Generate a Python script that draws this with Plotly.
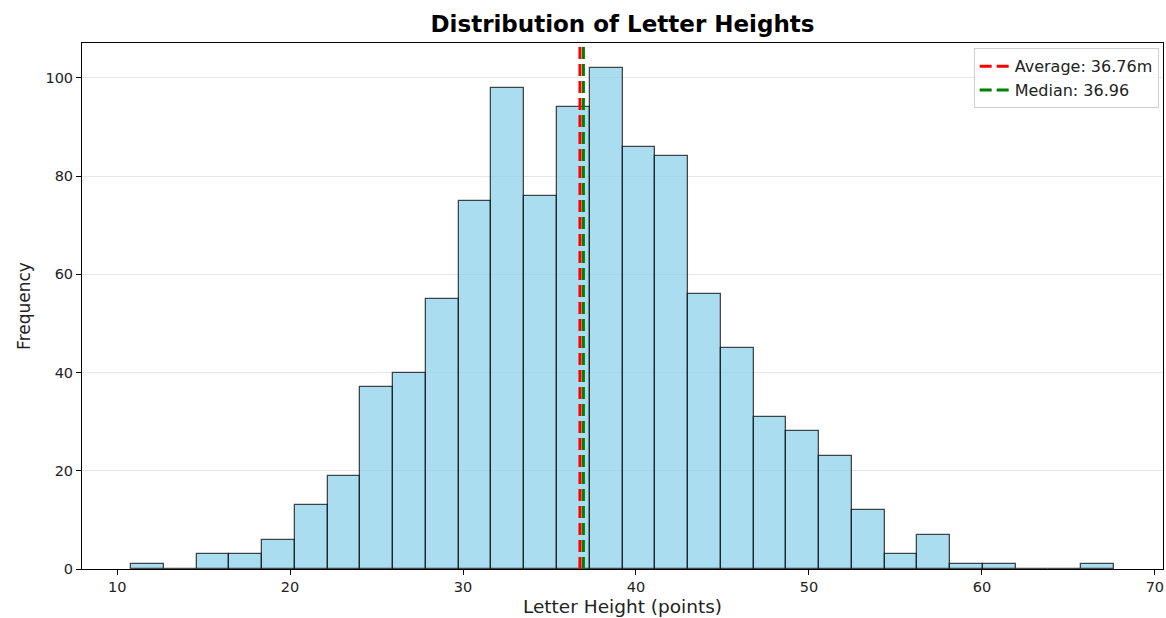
import plotly.graph_objects as go

# Histogram data (30 bins)
bin_start = 10.81
bin_width = 1.894
counts = [1, 0, 3, 3, 6, 13, 19, 37, 40, 55, 75, 98, 76, 94, 102,
          86, 84, 56, 45, 31, 28, 23, 12, 3, 7, 1, 1, 0, 0, 1]
mean_val = 36.76
median_val = 36.96
x_ticks = [10, 20, 30, 40, 50, 60, 70]
y_ticks = [0, 20, 40, 60, 80, 100]

centers = [bin_start + bin_width * (i + 0.5) for i in range(len(counts))]
x_lo = bin_start
x_hi = bin_start + bin_width * len(counts)
pad = 0.05 * (x_hi - x_lo)
y_top = max(counts) * 1.05

fig = go.Figure()
fig.add_trace(go.Bar(
    x=centers, y=counts, width=[bin_width] * len(counts),
    marker=dict(color="rgba(135,206,235,0.7)",
                line=dict(color="rgba(0,0,0,0.7)", width=1.3)),
    showlegend=False, hoverinfo="x+y"))
fig.add_trace(go.Scatter(
    x=[mean_val, mean_val], y=[0, y_top], mode="lines",
    line=dict(color="red", width=3, dash="12px,5px"),
    name=f"Average: {mean_val:.2f}m"))
fig.add_trace(go.Scatter(
    x=[median_val, median_val], y=[0, y_top], mode="lines",
    line=dict(color="green", width=3, dash="12px,5px"),
    name=f"Median: {median_val:.2f}"))

axis_common = dict(showline=True, mirror=True, linecolor="black", linewidth=1,
                   ticks="outside", ticklen=5, tickcolor="black",
                   tickfont=dict(family="DejaVu Sans", size=14.5, color="#222"),
                   zeroline=False)

plot_h = 618 - 43 - 49

fig.update_layout(
    width=1166, height=618,
    margin=dict(l=82, r=3, t=43, b=49),
    paper_bgcolor="white", plot_bgcolor="white",
    font=dict(family="DejaVu Sans", color="black"),
    title=dict(text="<b>Distribution of Letter Heights</b>",
               font=dict(family="DejaVu Sans", size=23, color="black"),
               x=(82 + (1166 - 3)) / 2 / 1166, xanchor="center",
               y=1 - 24 / 618, yanchor="middle"),
    bargap=0,
    legend=dict(x=0.996, y=0.99, xanchor="right", yanchor="top",
                bgcolor="rgba(255,255,255,0.8)", bordercolor="#d0d0d0",
                borderwidth=1, tracegroupgap=0,
                font=dict(family="DejaVu Sans", size=16, color="#222")),
    xaxis=dict(range=[x_lo - pad, x_hi + pad], tickvals=x_ticks,
               showgrid=False, **axis_common),
    yaxis=dict(range=[0, y_top], tickvals=y_ticks,
               showgrid=True, gridcolor="rgba(176,176,176,0.3)", gridwidth=1,
               title=dict(text="Frequency",
                          font=dict(family="DejaVu Sans", size=17, color="#222"),
                          standoff=10),
               **axis_common),
    annotations=[dict(text="Letter Height (points)", xref="paper", yref="paper",
                      x=0.5, y=-(606 - 569) / plot_h, xanchor="center",
                      yanchor="middle", showarrow=False,
                      font=dict(family="DejaVu Sans", size=18.5, color="#222"))],
)

fig.write_html("out.html", config={"displayModeBar": False},
               post_script="document.body.style.margin='0';")
